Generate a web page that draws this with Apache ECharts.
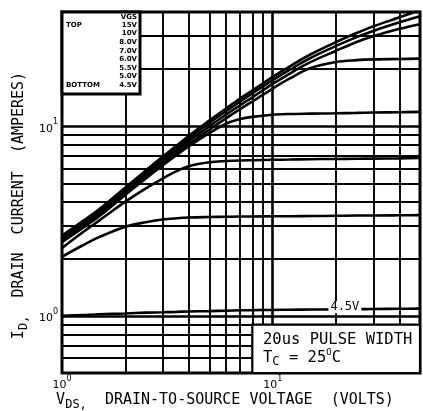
<!DOCTYPE html>
<html>
<head>
<meta charset="utf-8">
<script src="https://cdn.jsdelivr.net/npm/echarts@6/dist/echarts.min.js"></script>
<style>
  html, body { margin: 0; padding: 0; background: #fff; }
  #chart { width: 423px; height: 411px; }
</style>
</head>
<body>
<div id="chart"></div>
<script>
// Drain-to-source voltage sample points (V)
const vds = [1, 1.25, 1.5, 2, 2.5, 3, 3.5, 4, 5, 6, 7, 8, 10, 12, 15, 20, 25, 30, 40, 50];

// Drain current (A) for each gate voltage, at the vds points above
const id15V  = [2.65, 3.15, 3.65, 4.75, 5.85, 6.9, 7.9, 8.9, 10.7, 12.4, 14.0, 15.4, 18.2, 20.6, 23.8, 27.8, 31.0, 33.6, 37.5, 41.0];
const id10V  = [2.6, 3.1, 3.58, 4.65, 5.7, 6.7, 7.7, 8.65, 10.4, 12.0, 13.5, 14.9, 17.5, 19.8, 22.8, 26.5, 29.5, 31.8, 35.3, 38.0];
const id8V   = [2.55, 3.03, 3.5, 4.55, 5.55, 6.5, 7.45, 8.35, 10.0, 11.5, 12.9, 14.2, 16.7, 18.9, 21.7, 25.0, 27.8, 29.8, 32.6, 34.5];
const id7V   = [2.5, 2.97, 3.43, 4.45, 5.4, 6.3, 7.2, 8.05, 9.6, 11.0, 12.3, 13.5, 15.8, 17.8, 20.2, 21.8, 22.3, 22.5, 22.6, 22.7];
const id6V   = [2.45, 2.9, 3.35, 4.35, 5.3, 6.2, 7.05, 7.85, 9.2, 10.3, 10.9, 11.2, 11.5, 11.6, 11.65, 11.7, 11.75, 11.8, 11.85, 11.9];
const id5V5  = [2.28, 2.75, 3.18, 4.0, 4.7, 5.3, 5.8, 6.15, 6.45, 6.55, 6.6, 6.62, 6.65, 6.67, 6.7, 6.72, 6.74, 6.75, 6.77, 6.8];
const id5V   = [2.05, 2.35, 2.6, 2.95, 3.12, 3.22, 3.27, 3.3, 3.32, 3.33, 3.34, 3.34, 3.35, 3.35, 3.36, 3.37, 3.38, 3.38, 3.39, 3.4];
const id4V5  = [1.0, 1.01, 1.02, 1.03, 1.04, 1.045, 1.05, 1.055, 1.06, 1.065, 1.07, 1.072, 1.075, 1.078, 1.08, 1.083, 1.085, 1.087, 1.09, 1.092];

// Gate voltage legend entries, top to bottom
const vgsLabels = ['15V', '10V', '8.0V', '7.0V', '6.0V', '5.5V', '5.0V', '4.5V'];

// Log grid lines
const vGridMinor = [2, 3, 4, 5, 6, 7, 8, 9, 20, 30, 40];
const vGridMajor = [10];
const iGridMinor = [0.6, 0.7, 0.8, 0.9, 2, 3, 4, 5, 6, 7, 8, 9, 20, 30];
const iGridMajor = [1, 10];

// Axis ranges
const xRange = [1, 50];
const yRange = [0.5, 40];

// Note box corners and the in-line curve tag, in (VDS, ID)
const noteFrom = [8, 0.9];
const noteTo = [50, 0.5];
const labelAt = [22, 1.083];

const FONT = 'DejaVu Sans';
const MONO = 'DejaVu Sans Mono';
const curves = [id15V, id10V, id8V, id7V, id6V, id5V5, id5V, id4V5];

function decadeLabel(v) {
  const e = Math.log10(v);
  const r = Math.round(e);
  if (Math.abs(e - r) > 1e-6) return '';
  return '{b|10}{s|' + r + '}';
}
const tickRich = {
  b: { fontFamily: FONT, fontSize: 11, color: '#000', lineHeight: 16, verticalAlign: 'bottom' },
  s: { fontFamily: FONT, fontSize: 8, color: '#000', lineHeight: 16, verticalAlign: 'top' }
};
const nameRich = {
  n: { fontFamily: MONO, fontSize: 15, color: '#000', lineHeight: 18, verticalAlign: 'top' },
  d: { fontFamily: MONO, fontSize: 12, color: '#000', lineHeight: 18, verticalAlign: 'bottom' }
};

const chart = echarts.init(document.getElementById('chart'), null, { renderer: 'canvas' });

const series = [];
// grid lines
series.push({
  type: 'line', data: [], silent: true, z: 1,
  markLine: {
    silent: true, symbol: 'none', animation: false, z: 1,
    label: { show: false },
    lineStyle: { color: '#000', type: 'solid', width: 1.9 },
    data: vGridMinor.map(v => ({ xAxis: v }))
      .concat(iGridMinor.map(v => ({ yAxis: v })))
  }
});
series.push({
  type: 'line', data: [], silent: true, z: 1,
  markLine: {
    silent: true, symbol: 'none', animation: false, z: 1,
    label: { show: false },
    lineStyle: { color: '#000', type: 'solid', width: 2.6 },
    data: vGridMajor.map(v => ({ xAxis: v }))
      .concat(iGridMajor.map(v => ({ yAxis: v })))
  }
});
// note box
series.push({
  type: 'line', data: [], silent: true, z: 3,
  markArea: {
    silent: true, animation: false, z: 3,
    itemStyle: { color: '#fff', borderColor: '#000', borderWidth: 2.2 },
    data: [[{ coord: noteFrom }, { coord: noteTo }]]
  }
});
// output characteristic curves
curves.forEach((arr, k) => {
  const s = {
    type: 'line', name: vgsLabels[k], z: 5,
    data: vds.map((v, i) => [v, arr[i]]),
    smooth: 0.35, showSymbol: false, symbol: 'none', clip: true,
    lineStyle: { color: '#000', width: 2.6 },
    animation: false
  };
  if (vgsLabels[k] === '4.5V') {
    s.markPoint = {
      symbol: 'rect', symbolSize: 1, animation: false, z: 6,
      itemStyle: { color: 'rgba(0,0,0,0)' },
      label: {
        show: true, position: 'inside', formatter: '4.5V', offset: [0, -2],
        fontFamily: MONO, fontSize: 12, color: '#000',
        backgroundColor: '#fff', padding: [0, 2]
      },
      data: [{ coord: labelAt }]
    };
  }
  series.push(s);
});

// legend block
const legendFont = 'bold 7px ' + FONT;
const graphics = [{
  type: 'rect', x: 62, y: 12, z: 10,
  shape: { x: 0, y: 0, width: 78, height: 82 },
  style: { fill: '#fff', stroke: '#000', lineWidth: 3 }
}, {
  type: 'text', x: 137, y: 17, z: 11,
  style: { text: 'VGS', font: legendFont, fill: '#000', textAlign: 'right', textVerticalAlign: 'middle' }
}];
vgsLabels.forEach((t, i) => {
  graphics.push({
    type: 'text', x: 137, y: 25 + i * 8.6, z: 11,
    style: { text: t, font: legendFont, fill: '#000', textAlign: 'right', textVerticalAlign: 'middle' }
  });
});
graphics.push({ type: 'text', x: 66, y: 25, z: 11,
  style: { text: 'TOP', font: legendFont, fill: '#000', textAlign: 'left', textVerticalAlign: 'middle' } });
graphics.push({ type: 'text', x: 66, y: 25 + 7 * 8.6, z: 11,
  style: { text: 'BOTTOM', font: legendFont, fill: '#000', textAlign: 'left', textVerticalAlign: 'middle' } });
// pulse / temperature note
graphics.push({ type: 'text', x: 263, y: 340, z: 10,
  style: { text: '20us PULSE WIDTH', font: '15.5px ' + MONO, fill: '#000', textAlign: 'left', textVerticalAlign: 'middle' } });
graphics.push({ type: 'text', x: 263, y: 358, z: 10,
  style: {
    text: '{n|T}{d|C}{n| = 25}{u|O}{n|C}', textAlign: 'left', textVerticalAlign: 'middle',
    rich: {
      n: { fontFamily: MONO, fontSize: 15.5, fill: '#000', lineHeight: 20, verticalAlign: 'middle' },
      d: { fontFamily: MONO, fontSize: 12, fill: '#000', lineHeight: 20, verticalAlign: 'bottom' },
      u: { fontFamily: MONO, fontSize: 9, fill: '#000', lineHeight: 20, verticalAlign: 'top' }
    }
  } });

const option = {
  animation: false,
  backgroundColor: '#fff',
  grid: {
    left: 62, right: 3, top: 12, bottom: 38,
    outerBoundsMode: 'none', containLabel: false,
    show: true, borderColor: '#000', borderWidth: 3, backgroundColor: 'rgba(0,0,0,0)'
  },
  xAxis: {
    type: 'log', logBase: 10, min: xRange[0], max: xRange[1],
    axisLine: { show: false }, axisTick: { show: false }, splitLine: { show: false },
    axisLabel: { formatter: decadeLabel, margin: 2, rich: tickRich, showMaxLabel: false },
    name: '{n|V}{d|DS,}{n|  DRAIN-TO-SOURCE VOLTAGE  (VOLTS)}',
    nameLocation: 'middle', nameGap: 20, nameMoveOverlap: false,
    nameTextStyle: { padding: [0, 32, 0, 0], rich: nameRich }
  },
  yAxis: {
    type: 'log', logBase: 10, min: yRange[0], max: yRange[1],
    axisLine: { show: false }, axisTick: { show: false }, splitLine: { show: false },
    axisLabel: { formatter: decadeLabel, margin: 4, rich: tickRich, showMaxLabel: false },
    name: '{n|I}{d|D,}{n|  DRAIN  CURRENT  (AMPERES)}',
    nameLocation: 'middle', nameGap: 32, nameRotate: 90, nameMoveOverlap: false,
    nameTextStyle: { padding: [0, 26, 0, 0], rich: nameRich }
  },
  series: series,
  graphic: graphics
};
chart.setOption(option);
</script>
</body>
</html>
